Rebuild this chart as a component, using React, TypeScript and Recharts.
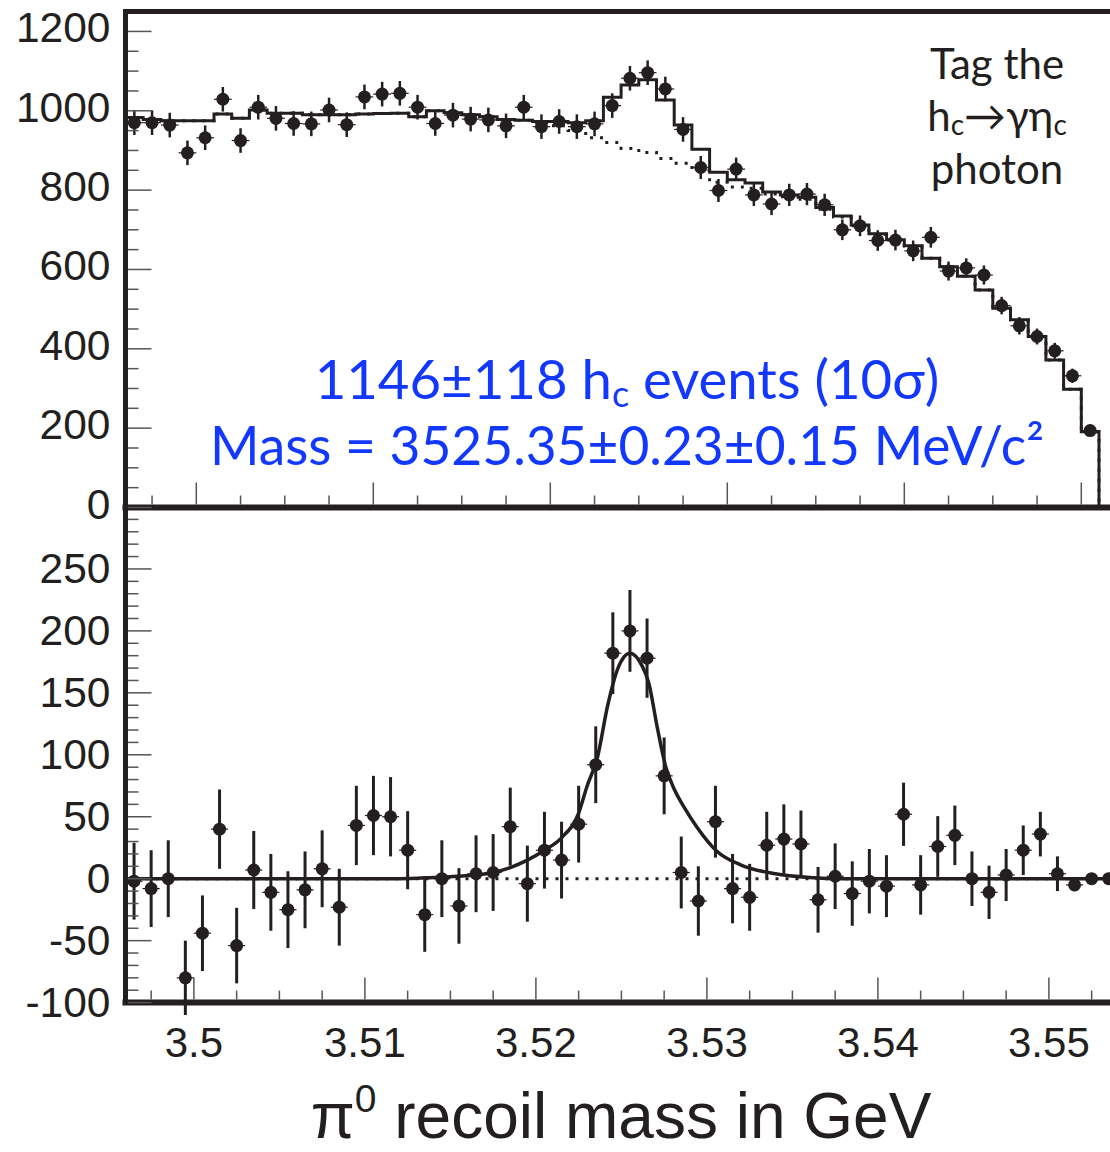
import React from 'react';
import { ComposedChart, Line, Scatter, XAxis, YAxis, ErrorBar, ReferenceLine } from 'recharts';

// bin centres, 1 MeV bins (GeV)
const massBins = [
  3.4965, 3.4975, 3.4985, 3.4995, 3.5005, 3.5015, 3.5025, 3.5035, 3.5045, 3.5055,
  3.5065, 3.5075, 3.5085, 3.5095, 3.5105, 3.5115, 3.5125, 3.5135, 3.5145, 3.5155,
  3.5165, 3.5175, 3.5185, 3.5195, 3.5205, 3.5215, 3.5225, 3.5235, 3.5245, 3.5255,
  3.5265, 3.5275, 3.5285, 3.5295, 3.5305, 3.5315, 3.5325, 3.5335, 3.5345, 3.5355,
  3.5365, 3.5375, 3.5385, 3.5395, 3.5405, 3.5415, 3.5425, 3.5435, 3.5445, 3.5455,
  3.5465, 3.5475, 3.5485, 3.5495, 3.5505, 3.5515, 3.5525, 3.5535,
];
const BIN_HALF = 0.0005;

// upper panel: events per bin
const topCounts = [
  970, 970, 964, 894, 932, 1029, 925, 1009, 981, 968,
  967, 1002, 965, 1035, 1042, 1044, 1009, 968, 989, 979,
  977, 962, 1009, 960, 973, 960, 967, 1013, 1082, 1096,
  1055, 953, 857, 799, 853, 788, 765, 788, 790, 763,
  700, 710, 673, 674, 647, 681, 596, 604, 586, 509,
  458, 431, 395, 332, 194,
];
const topErrors = [
  31, 31, 31, 31, 31, 31, 31, 31, 31, 31,
  31, 31, 31, 31, 31, 31, 31, 31, 31, 31,
  31, 31, 31, 31, 31, 31, 31, 31, 31, 31,
  31, 31, 29, 29, 29, 28, 28, 28, 28, 28,
  26, 26, 26, 26, 26, 26, 24, 24, 24, 22,
  22, 20, 20, 18, 14,
];
// signal + background fit (histogram)
const topFit = [
  983, 978, 975, 975, 975, 992, 981, 1002, 994, 994,
  990, 990, 990, 992, 993, 994, 985, 1000, 995, 990,
  985, 978, 976, 973, 973, 970, 975, 1034, 1065, 1078,
  1027, 964, 903, 845, 826, 818, 795, 788, 782, 756,
  735, 712, 690, 675, 660, 628, 607, 583, 548, 502,
  473, 431, 372, 298, 191,
];
// background only (dotted)
const topBackground = [
  983, 978, 975, 975, 975, 992, 981, 1002, 994, 994,
  990, 990, 990, 992, 993, 994, 985, 1000, 995, 990,
  985, 978, 976, 970, 962, 950, 932, 920, 905, 895,
  880, 868, 850, 820, 808, 805, 790, 783, 777, 752,
  732, 710, 689, 674, 659, 628, 607, 583, 548, 502,
  473, 431, 372, 298, 191,
];

// lower panel: background-subtracted
const residuals = [
  -2, -8, 0, -80, -44, 40, -54, 7, -11, -25,
  -9, 8, -23, 43, 51, 50, 23, -29, 0, -22,
  4, 5, 42, -4, 23, 15, 44, 92, 182, 200,
  178, 83, 5, -18, 46, -8, -15, 27, 32, 28,
  -17, 2, -12, -2, -6, 52, -5, 26, 35, 0,
  -11, 3, 23, 36, 4, -5, 0, 0,
];
const residualErrors = [
  31, 31, 31, 30, 30.5, 32, 30.5, 31.5, 31, 31,
  31, 31, 31, 32, 32, 32, 31.5, 30, 31, 30.5,
  31, 31, 31.5, 30.7, 31, 31, 31, 31, 33, 33,
  32, 31, 29, 28, 29, 28, 27, 27, 28, 27,
  26.5, 26.5, 26, 26, 25, 25.5, 24, 24.5, 24, 22,
  21.5, 21, 20, 18, 14, 5, 0, 0,
];
const signalMass = [
  3.496, 3.512, 3.514, 3.516, 3.5175, 3.5185, 3.5195, 3.5205, 3.5215, 3.5225,
  3.523, 3.5236, 3.5242, 3.5248, 3.5255, 3.5262, 3.5266, 3.5271, 3.5276, 3.5281,
  3.5287, 3.5294, 3.5306, 3.532, 3.534, 3.536, 3.538, 3.554,
];
const signalFit = [
  0, 0, 1, 2.5, 5, 9, 15, 23, 33, 53,
  75, 98, 140, 170, 182, 172, 158, 122, 90, 72,
  57, 42, 22, 11, 4, 1, 0, 0,
];

const xTicksBottom = [
  3.4975, 3.5, 3.5025, 3.505, 3.5075, 3.51, 3.5125, 3.515, 3.5175, 3.52, 3.5225, 3.525,
  3.5275, 3.53, 3.5325, 3.535, 3.5375, 3.54, 3.5425, 3.545, 3.5475, 3.55, 3.5525,
];
const xTicksTop = xTicksBottom.filter((t) => t < 3.552);
const xLabels = [3.5, 3.51, 3.52, 3.53, 3.54, 3.55];
const yTicksTop = [
  0, 50, 100, 150, 200, 250, 300, 350, 400, 450, 500, 550, 600,
  650, 700, 750, 800, 850, 900, 950, 1000, 1050, 1100, 1150, 1200,
];
const yLabelsTop = [0, 200, 400, 600, 800, 1000, 1200];
const yTicksBottom = [
  -100, -90, -80, -70, -60, -50, -40, -30, -20, -10, 0, 10, 20, 30, 40, 50, 60, 70, 80, 90,
  100, 110, 120, 130, 140, 150, 160, 170, 180, 190, 200, 210, 220, 230, 240, 250, 260, 270, 280, 290,
];
const yLabelsBottom = [-100, -50, 0, 50, 100, 150, 200, 250];

const INK = '#231f20';
const TICK = '#555';
const BLUE = '#1238ff';
const SANS = '"Liberation Sans", Arial, Helvetica, sans-serif';
const HUMANIST = 'Lato, "Open Sans", sans-serif';

const topPoints = topCounts.map((v, i) => ({ x: massBins[i], v, err: topErrors[i], xerr: BIN_HALF }));
const topFitSteps = [
  ...topFit.map((v, i) => ({ x: massBins[i] - BIN_HALF, v })),
  { x: massBins[topFit.length - 1] + BIN_HALF, v: 0 },
];
const topBgSteps = [
  ...topBackground.map((v, i) => ({ x: massBins[i] - BIN_HALF, v })),
  { x: massBins[topBackground.length - 1] + BIN_HALF, v: 0 },
];
const bottomPoints = residuals.map((v, i) => ({ x: massBins[i], v, err: residualErrors[i], xerr: BIN_HALF }));
const signalCurve = signalMass.map((x, i) => ({ x, v: signalFit[i] }));

const isIn = (list: number[], v: number) => list.some((l) => Math.abs(l - v) < 1e-7);

const XTick = (props: any) => {
  const { x, y, payload, labels, showText } = props;
  const v = payload.value;
  const major = isIn(labels, v);
  return (
    <g>
      <line x1={x} x2={x} y1={y - 3} y2={y - (major ? 25 : 12)} stroke={TICK} strokeWidth={1.5} />
      {showText && major && (
        <text x={x} y={y + 54} textAnchor="middle" fontSize={42} fontFamily={SANS} fill={INK}>
          {String(v)}
        </text>
      )}
    </g>
  );
};

const YTick = (props: any) => {
  const { x, y, payload, labels, base } = props;
  const v = payload.value;
  const major = isIn(labels, v);
  return (
    <g>
      <line x1={x + 2.5} x2={x + (major ? 26 : 13)} y1={y} y2={y} stroke={TICK} strokeWidth={1.5} />
      {major && (
        <text x={x - 15} y={y + base} textAnchor="end" fontSize={42.5} fontFamily={SANS} fill={INK}>
          {String(v)}
        </text>
      )}
    </g>
  );
};

const Dot = (props: any) => <circle cx={props.cx} cy={props.cy} r={6.5} fill={INK} />;

export default function App() {
  return (
    <div style={{ position: 'fixed', left: 0, top: 0, width: 1110, height: 1152, overflow: 'hidden', background: '#fff' }}>
      {/* upper panel: all events */}
      <div style={{ position: 'absolute', left: 0, top: 0 }}>
        <ComposedChart width={1140} height={540} margin={{ top: 11.6, right: 23.3, bottom: 31.5, left: 0 }}>
          <XAxis
            type="number"
            dataKey="x"
            domain={[3.496, 3.552]}
            allowDataOverflow
            ticks={xTicksTop}
            interval={0}
            height={1}
            tickSize={0}
            tickMargin={0}
            tickLine={false}
            axisLine={false}
            tick={(p: any) => <XTick {...p} labels={xLabels} showText={false} />}
          />
          <YAxis
            type="number"
            domain={[0, 1250]}
            allowDataOverflow
            ticks={yTicksTop}
            interval={0}
            width={125.5}
            tickSize={0}
            tickMargin={0}
            tickLine={false}
            axisLine={false}
            tick={(p: any) => <YTick {...p} labels={yLabelsTop} base={11} />}
          />
          <Line
            data={topBgSteps}
            dataKey="v"
            type="stepAfter"
            stroke={INK}
            strokeWidth={3}
            strokeDasharray="3 7"
            dot={false}
            isAnimationActive={false}
          />
          <Line
            data={topFitSteps}
            dataKey="v"
            type="stepAfter"
            stroke={INK}
            strokeWidth={3}
            dot={false}
            isAnimationActive={false}
          />
          <Scatter data={topPoints} dataKey="v" shape={<Dot />} isAnimationActive={false}>
            <ErrorBar dataKey="err" direction="y" width={0} stroke={INK} strokeWidth={2.5} />
            <ErrorBar dataKey="xerr" direction="x" width={0} stroke={INK} strokeWidth={1.2} />
          </Scatter>
          <ReferenceLine y={1250} stroke={INK} strokeWidth={5} strokeLinecap="square" />
          <ReferenceLine x={3.496} stroke={INK} strokeWidth={5} strokeLinecap="square" />
          <ReferenceLine y={0} stroke={INK} strokeWidth={6} strokeLinecap="square" />
        </ComposedChart>
      </div>

      {/* lower panel: background subtracted */}
      <div style={{ position: 'absolute', left: 0, top: 480 }}>
        <ComposedChart width={1140} height={600} margin={{ top: 27, right: 22.7, bottom: 76.4, left: 0 }}>
          <XAxis
            type="number"
            dataKey="x"
            domain={[3.496, 3.554]}
            allowDataOverflow
            ticks={xTicksBottom}
            interval={0}
            height={1}
            tickSize={0}
            tickMargin={0}
            tickLine={false}
            axisLine={false}
            tick={(p: any) => <XTick {...p} labels={xLabels} showText />}
          />
          <YAxis
            type="number"
            domain={[-100, 300]}
            allowDataOverflow
            ticks={yTicksBottom}
            interval={0}
            width={125.5}
            tickSize={0}
            tickMargin={0}
            tickLine={false}
            axisLine={false}
            tick={(p: any) => <YTick {...p} labels={yLabelsBottom} base={14} />}
          />
          <ReferenceLine y={0} stroke={INK} strokeWidth={3} strokeDasharray="3 7" />
          <Line
            data={signalCurve}
            dataKey="v"
            type="monotone"
            stroke={INK}
            strokeWidth={3.5}
            dot={false}
            isAnimationActive={false}
          />
          <Scatter data={bottomPoints} dataKey="v" shape={<Dot />} isAnimationActive={false}>
            <ErrorBar dataKey="err" direction="y" width={0} stroke={INK} strokeWidth={3} />
            <ErrorBar dataKey="xerr" direction="x" width={0} stroke={INK} strokeWidth={1.2} />
          </Scatter>
          <ReferenceLine x={3.496} stroke={INK} strokeWidth={5} strokeLinecap="square" />
          <ReferenceLine y={-100} stroke={INK} strokeWidth={6} strokeLinecap="square" />
        </ComposedChart>
      </div>

      {/* annotations */}
      <svg width={1110} height={1152} style={{ position: 'absolute', left: 0, top: 0, pointerEvents: 'none' }}>
        <g fontFamily={HUMANIST} fill={INK} fontSize={42} textAnchor="middle">
          <text x={997} y={79}>Tag the</text>
          <text x={997} y={131}>
            h<tspan fontSize={28} dy={4}>c</tspan>
            <tspan dy={-4}>→γη</tspan>
            <tspan fontSize={28} dy={4}>c</tspan>
          </text>
          <text x={997} y={184}>photon</text>
        </g>
        <g fontFamily={HUMANIST} fill={BLUE} textAnchor="middle">
          <text x={627} y={399} fontSize={54.5}>
            1146±118 h<tspan fontSize={36} dy={8}>c</tspan>
            <tspan dy={-8}> events (10σ)</tspan>
          </text>
          <text x={627} y={465} fontSize={53.3}>Mass = 3525.35±0.23±0.15 MeV/c²</text>
        </g>
      </svg>
      <div
        style={{
          position: 'absolute',
          left: 132,
          width: 978,
          top: 1083.8,
          height: 64,
          textAlign: 'center',
          fontFamily: SANS,
          fontSize: 64,
          lineHeight: '64px',
          color: INK,
          whiteSpace: 'nowrap',
        }}
      >
        π<span style={{ fontSize: 39, position: 'relative', top: -26 }}>0</span> recoil mass in GeV
      </div>
    </div>
  );
}
